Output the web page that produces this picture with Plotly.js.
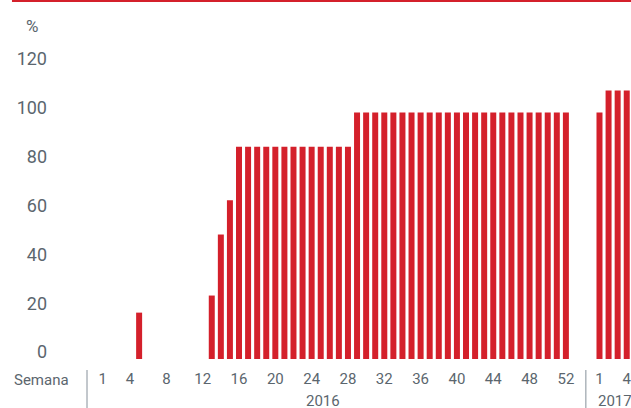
<!DOCTYPE html>
<html>
<head>
<meta charset="utf-8">
<script src="https://cdn.plot.ly/plotly-3.0.1.min.js"></script>
<style>
  html, body { margin: 0; padding: 0; background: #ffffff; }
  #chart { width: 631px; height: 408px; }
</style>
</head>
<body>
<div id="chart"></div>
<script>
// ---- Data ----
const weeks2016 = [1,2,3,4,5,6,7,8,9,10,11,12,13,14,15,16,17,18,19,20,21,22,23,24,25,26,
                   27,28,29,30,31,32,33,34,35,36,37,38,39,40,41,42,43,44,45,46,47,48,49,50,51,52];
const values2016 = [0,0,0,0,19,0,0,0,0,0,0,0,26,51,65,87,87,87,87,87,87,87,87,87,87,87,
                    87,87,101,101,101,101,101,101,101,101,101,101,101,101,101,101,101,101,101,101,101,101,101,101,101,101];
const weeks2017 = [1,2,3,4];
const values2017 = [101,110,110,110];

const tickWeeks2016 = [1,4,8,12,16,20,24,28,32,36,40,44,48,52];
const tickWeeks2017 = [1,4];
const yTicks = [0,20,40,60,80,100,120];

const years = ["2016", "2017"];
const xAxisLabel = "Semana";
const unitLabel = "%";

// ---- Layout constants ----
const OFFSET_2017 = 54.7;           // x-axis offset of the 2017 block (gap after week 52)
const RED = "#d4202b";
const TEXT = "#5b666e";
const DIVIDER = "#86909a";

const x2017 = weeks2017.map(w => w + OFFSET_2017);

const traces = [
  { type: "bar", x: weeks2016, y: values2016, width: 0.66,
    marker: { color: RED, line: { width: 0 } }, showlegend: false, hoverinfo: "x+y" },
  { type: "bar", x: x2017, y: values2017, width: 0.66,
    marker: { color: RED, line: { width: 0 } }, showlegend: false, hoverinfo: "y" }
];

const tickvals = tickWeeks2016.concat(tickWeeks2017.map(w => w + OFFSET_2017));
const ticktext = tickWeeks2016.map(String).concat(tickWeeks2017.map(String));

const layout = {
  width: 631, height: 408,
  margin: { l: 48, r: 0, t: 40, b: 49, pad: 0 },
  paper_bgcolor: "#ffffff", plot_bgcolor: "#ffffff",
  barmode: "overlay",
  font: { family: "Roboto, 'Noto Sans', sans-serif", color: TEXT, size: 15 },
  xaxis: {
    range: [-5.035, 59.17],
    tickmode: "array", tickvals: tickvals, ticktext: ticktext,
    showgrid: false, zeroline: false, showline: false, ticks: "",
    tickfont: { family: "Roboto, sans-serif", size: 15, color: TEXT },
    ticklabelshift: -1.5,
    ticklabelstandoff: 9,
    ticklabeloverflow: "allow",
    fixedrange: true
  },
  yaxis: {
    range: [0, 130.7],
    tickmode: "array", tickvals: yTicks, ticktext: yTicks.map(String),
    showgrid: false, zeroline: false, showline: false, ticks: "",
    tickfont: { family: "Roboto, sans-serif", size: 18, color: TEXT },
    ticklabelshift: -7,
    fixedrange: true
  },
  shapes: [
    { type: "line", xref: "paper", yref: "paper", x0: -0.0618, x1: 1, y0: 1.1223, y1: 1.1223,
      line: { color: RED, width: 2 } },
    { type: "line", xref: "x", yref: "paper", x0: -0.74, x1: -0.74, y0: -0.0345, y1: -0.16,
      line: { color: DIVIDER, width: 1 } },
    { type: "line", xref: "x", yref: "paper", x0: 54.2, x1: 54.2, y0: -0.0345, y1: -0.16,
      line: { color: DIVIDER, width: 1 } }
  ],
  annotations: [
    { text: unitLabel, xref: "paper", yref: "paper", x: -0.0283, y: 1.0439,
      xanchor: "center", yanchor: "middle", showarrow: false,
      font: { family: "Roboto, sans-serif", size: 17, color: TEXT } },
    { text: xAxisLabel, xref: "paper", yref: "paper", x: -0.0115, y: -0.0658,
      xanchor: "center", yanchor: "middle", showarrow: false,
      font: { family: "Roboto, sans-serif", size: 15, color: TEXT } },
    { text: years[0], xref: "x", yref: "paper", x: 25.3, y: -0.1317,
      xanchor: "center", yanchor: "middle", showarrow: false,
      font: { family: "Roboto, sans-serif", size: 15, color: TEXT } },
    { text: years[1], xref: "x", yref: "paper", x: 57.4, y: -0.1317,
      xanchor: "center", yanchor: "middle", showarrow: false,
      font: { family: "Roboto, sans-serif", size: 15, color: TEXT } }
  ]
};

Plotly.newPlot("chart", traces, layout, { displayModeBar: false, staticPlot: true });
</script>
</body>
</html>
